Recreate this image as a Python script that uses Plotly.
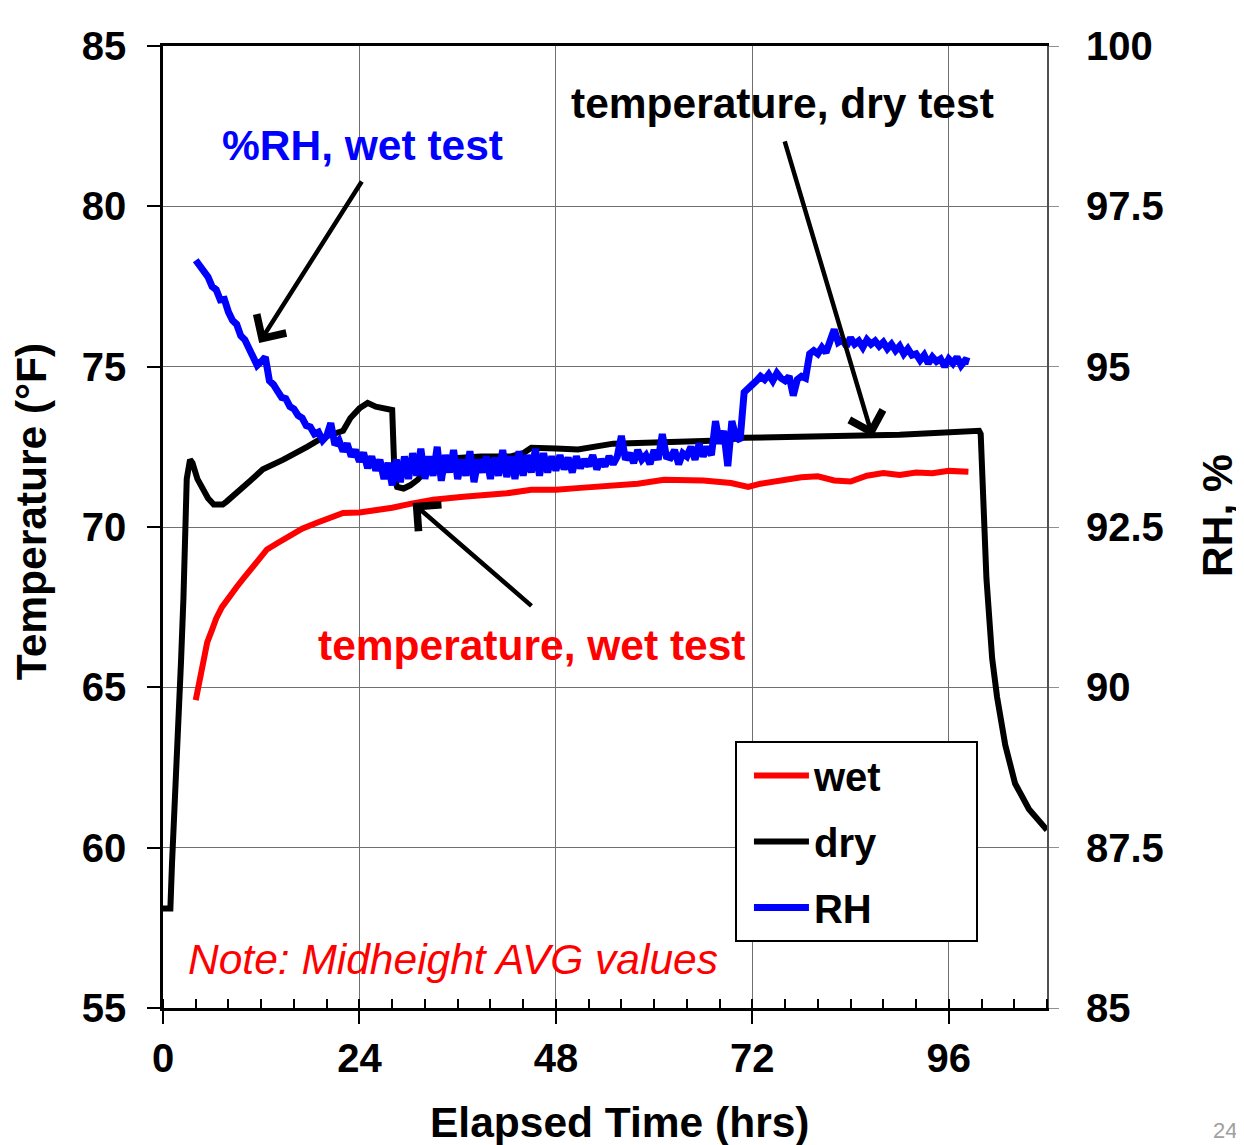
import plotly.graph_objects as go

# ---- data ----
dry_t = [0, 0.9, 1.1, 1.5, 1.9, 2.2, 2.5, 2.7, 2.9, 3.3, 3.6, 4.2, 4.8, 5.5, 6.2, 7.3, 7.8, 9.0,
         10.7, 12.2, 14.7, 17.6, 19.6, 22.0, 22.9, 24.0, 25.0, 26.0, 27.4, 28.0, 28.3, 28.6, 29.4,
         30.2, 31.1, 32.3, 34.0, 36.0, 38.8, 42.5, 44.0, 45.0, 48.0, 50.7, 55.0, 61.2, 65.4, 68.0,
         71.0, 75.5, 80.0, 86.2, 90.0, 94.3, 99.7, 99.9, 100.2, 100.6, 101.3, 101.9, 102.9, 104.1,
         105.8, 107.4, 108.0]
dry_T = [58.1, 58.1, 59.5, 61.6, 63.7, 65.8, 67.8, 69.9, 71.5, 72.1, 72.0, 71.5, 71.25, 70.9, 70.7,
         70.7, 70.8, 71.05, 71.45, 71.8, 72.1, 72.5, 72.8, 73.0, 73.4, 73.7, 73.87, 73.75, 73.7,
         73.65, 71.5, 71.25, 71.2, 71.3, 71.47, 71.8, 72.0, 72.15, 72.2, 72.2, 72.3, 72.47, 72.45,
         72.42, 72.6, 72.65, 72.65, 72.7, 72.78, 72.8, 72.82, 72.82, 72.88, 72.93, 73.0, 72.9,
         70.9, 68.4, 65.9, 64.7, 63.2, 62.0, 61.2, 60.7, 60.55]

wet_t = [4.0, 4.5, 5.0, 5.4, 6.0, 6.5, 7.2, 8.0, 9.0, 10.0, 10.7, 12.0, 12.7, 14.0, 15.5, 17.0,
         18.8, 20.4, 22.0, 24.0, 26.2, 28.0, 30.2, 33.0, 36.7, 40.0, 42.0, 45.0, 48.0, 51.0, 55.0,
         58.0, 61.2, 64.0, 66.0, 69.4, 71.5, 73.0, 75.5, 78.0, 80.0, 82.0, 84.0, 86.0, 88.0, 90.0,
         92.0, 94.0, 96.0, 98.4]
wet_T = [64.6, 65.3, 65.9, 66.4, 66.8, 67.15, 67.5, 67.8, 68.13, 68.45, 68.66, 69.05, 69.3, 69.5,
         69.7, 69.95, 70.13, 70.3, 70.44, 70.45, 70.52, 70.6, 70.72, 70.85, 70.94, 71.0, 71.05,
         71.16, 71.16, 71.22, 71.3, 71.35, 71.47, 71.45, 71.45, 71.37, 71.25, 71.35, 71.47, 71.55,
         71.58, 71.45, 71.42, 71.6, 71.68, 71.62, 71.7, 71.68, 71.75, 71.72]

rh_t = [4.0 + 0.5 * i for i in range(190)]
rh_val = [96.66, 96.58, 96.47, 96.40, 96.25, 96.20, 96.04, 96.05, 95.85, 95.72,
          95.66, 95.48, 95.42, 95.28, 95.18, 95.02, 95.08, 95.15, 94.78, 94.72,
          94.62, 94.52, 94.50, 94.38, 94.34, 94.24, 94.20, 94.08, 94.06, 93.95,
          93.98, 93.85, 93.92, 94.12, 93.78, 93.85, 93.68, 93.80, 93.60, 93.70,
          93.52, 93.66, 93.42, 93.60, 93.38, 93.55, 93.25, 93.50, 93.15, 93.55,
          93.20, 93.60, 93.25, 93.65, 93.30, 93.72, 93.25, 93.60, 93.30, 93.75,
          93.22, 93.62, 93.35, 93.70, 93.25, 93.55, 93.30, 93.68, 93.20, 93.55,
          93.35, 93.60, 93.25, 93.58, 93.30, 93.70, 93.28, 93.60, 93.25, 93.68,
          93.30, 93.62, 93.35, 93.72, 93.30, 93.65, 93.35, 93.60, 93.38, 93.62,
          93.40, 93.58, 93.35, 93.60, 93.42, 93.55, 93.45, 93.62, 93.40, 93.55,
          93.45, 93.60, 93.48, 93.60, 93.92, 93.55, 93.65, 93.50, 93.70, 93.55,
          93.62, 93.48, 93.70, 93.55, 93.95, 93.60, 93.58, 93.70, 93.48, 93.65,
          93.60, 93.75, 93.55, 93.80, 93.60, 93.75, 93.62, 94.15, 93.80, 94.00,
          93.45, 94.15, 93.90, 93.85, 94.60, 94.68, 94.72, 94.78, 94.85, 94.80,
          94.88, 94.78, 94.90, 94.82, 94.78, 94.85, 94.55, 94.80, 94.85, 94.82,
          95.20, 95.25, 95.20, 95.30, 95.22, 95.40, 95.58, 95.38, 95.42, 95.32,
          95.45, 95.35, 95.40, 95.30, 95.42, 95.35, 95.40, 95.32, 95.38, 95.28,
          95.35, 95.25, 95.32, 95.20, 95.28, 95.18, 95.20, 95.10, 95.18, 95.05,
          95.15, 95.08, 95.12, 95.00, 95.12, 95.05, 95.15, 95.02, 95.10, 95.08]

x_ticks = [0, 24, 48, 72, 96]
y_ticks = [55, 60, 65, 70, 75, 80, 85]
y2_ticks = [85, 87.5, 90, 92.5, 95, 97.5, 100]
y2_labels = ["85", "87.5", "90", "92.5", "95", "97.5", "100"]

FONT = "Liberation Sans, Arial, sans-serif"
PAD = "\u00a0" * 8   # widens the legend box to match the reference

fig = go.Figure()
fig.add_trace(go.Scatter(x=wet_t, y=wet_T, name="wet" + PAD, mode="lines", legendgroup="a",
                         line=dict(color="#ff0000", width=6)))
fig.add_trace(go.Scatter(x=dry_t, y=dry_T, name="dry", mode="lines", legendgroup="b",
                         line=dict(color="#000000", width=6)))
fig.add_trace(go.Scatter(x=rh_t, y=rh_val, name="RH", mode="lines", legendgroup="c",
                         line=dict(color="#0000ff", width=7), yaxis="y2"))

fig.update_layout(
    width=1236, height=1137,
    margin=dict(l=155, r=197, t=38, b=137, autoexpand=False),
    paper_bgcolor="white", plot_bgcolor="white",
    font=dict(family=FONT, size=40, color="black"),
    showlegend=True,
    legend=dict(x=0.647, y=0.2775, xanchor="left", yanchor="top",
                bgcolor="white", bordercolor="black", borderwidth=2,
                font=dict(family=FONT, size=40, color="black", weight="bold"),
                tracegroupgap=11, itemwidth=55, indentation=12),
    xaxis=dict(range=[0, 108], tickvals=x_ticks, ticktext=[str(v) for v in x_ticks],
               showgrid=True, gridcolor="#707070", gridwidth=1,
               showline=True, linecolor="black", linewidth=2.5, mirror=True,
               ticks="outside", ticklen=13, tickwidth=2, tickcolor="black",
               minor=dict(dtick=4, tick0=0, ticks="inside", ticklen=9, tickwidth=2,
                          tickcolor="black", showgrid=False),
               tickfont=dict(family=FONT, size=40, color="black", weight="bold"),
               automargin=False, zeroline=False),
    yaxis=dict(range=[55, 85], tickvals=y_ticks,
               showgrid=True, gridcolor="#707070", gridwidth=1,
               showline=True, linecolor="black", linewidth=2.5,
               ticks="outside", ticklen=13, tickwidth=2, tickcolor="black",
               ticklabelstandoff=13,
               tickfont=dict(family=FONT, size=40, color="black", weight="bold"),
               automargin=False, zeroline=False),
    yaxis2=dict(range=[85, 100], tickvals=y2_ticks, ticktext=y2_labels,
                overlaying="y", side="right", showgrid=False,
                showline=True, linecolor="#505050", linewidth=2,
                ticks="outside", ticklen=10, tickwidth=1, tickcolor="#909090",
                ticklabelstandoff=19,
                tickfont=dict(family=FONT, size=40, color="black", weight="bold"),
                automargin=False, zeroline=False),
)

TS = 42.5
ann = []
# axis titles
ann.append(dict(x=0.516, y=-0.1195, xref="paper", yref="paper", xanchor="center", yanchor="middle",
                text="<b>Elapsed Time (hrs)</b>",
                showarrow=False, font=dict(family=FONT, size=TS, color="black")))
ann.append(dict(x=-0.148, y=0.5156, xref="paper", yref="paper", xanchor="center", yanchor="middle",
                text="<b>Temperature (°F)</b>",
                textangle=-90, showarrow=False, font=dict(family=FONT, size=TS, color="black")))
ann.append(dict(x=1.1934, y=0.5125, xref="paper", yref="paper", xanchor="center", yanchor="middle",
                text="<b>RH, %</b>",
                textangle=-90, showarrow=False, font=dict(family=FONT, size=TS, color="black")))
# texts
ann.append(dict(x=24.4, y=81.91, xref="x", yref="y", text="<b>%RH, wet test</b>",
                showarrow=False, font=dict(family=FONT, size=TS, color="#0000ff")))
ann.append(dict(x=75.7, y=83.22, xref="x", yref="y", text="<b>temperature, dry test</b>",
                showarrow=False, font=dict(family=FONT, size=TS, color="black")))
ann.append(dict(x=45.06, y=66.32, xref="x", yref="y", text="<b>temperature, wet test</b>",
                showarrow=False, font=dict(family=FONT, size=TS, color="#ff0000")))
ann.append(dict(x=35.4, y=56.5, xref="x", yref="y", text="<i>Note: Midheight AVG values</i>",
                showarrow=False, font=dict(family=FONT, size=TS, color="#ff0000")))
# arrows
for hx, hy, tx, ty in [(11.75, 75.74, 24.4, 80.82),
                       (86.7, 72.81, 75.9, 82.07),
                       (30.5, 70.75, 45.2, 67.5)]:
    ann.append(dict(x=hx, y=hy, xref="x", yref="y", ax=tx, ay=ty, axref="x", ayref="y",
                    text="", showarrow=True, arrowhead=4, arrowsize=1.5, arrowwidth=4.5,
                    arrowcolor="black", standoff=0, startstandoff=0))
# page number
ann.append(dict(x=1.186, y=-0.112, xref="paper", yref="paper", xanchor="left", yanchor="top",
                text="24", showarrow=False, font=dict(family=FONT, size=22, color="#a0a0a0")))
fig.update_layout(annotations=ann)
fig.add_shape(type="line", xref="paper", yref="paper", x0=1.2195, x1=1.2195, y0=-0.15, y1=1.05,
              line=dict(color="#c8c8c8", width=1.5))

fig.write_html("out.html")
